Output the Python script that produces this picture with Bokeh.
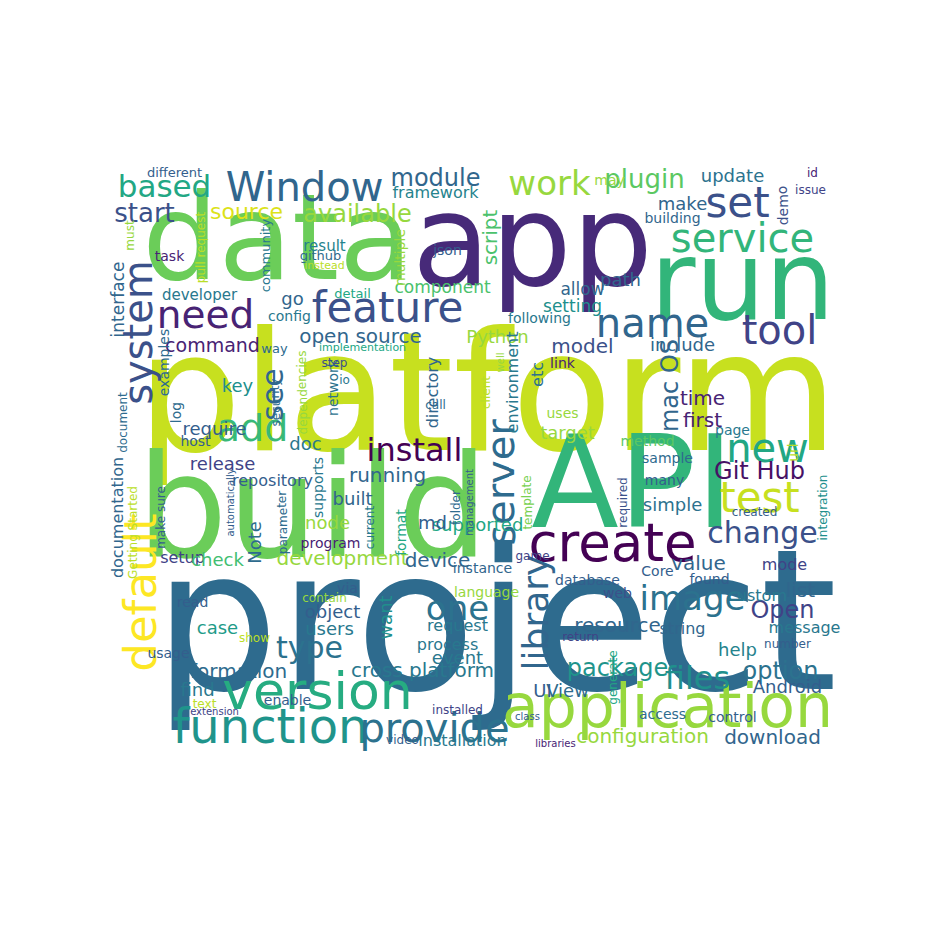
import math
from bokeh.plotting import figure
from bokeh.models import Range1d, ColumnDataSource
from bokeh.palettes import Viridis256
from bokeh.core.properties import value
from bokeh.embed import file_html
from bokeh.resources import INLINE

words = [
    "project", "platform", "build", "app", "data", "API", "run", "application", "create", "version",
    "function", "provide", "Window", "feature", "need", "system", "add", "see", "default", "service",
    "set", "name", "tool", "new", "test", "change", "Git Hub", "server", "install", "open source",
    "one", "library", "image", "Open", "type", "files", "option", "package", "work", "plugin",
    "module", "based", "source", "available", "start", "framework", "command", "developer", "config", "interface",
    "community", "go", "Python", "component", "script", "json", "result", "multiple", "setting", "allow",
    "path", "make", "update", "demo", "building", "id", "issue", "may", "model", "include",
    "mac OS", "environment", "etc", "link", "uses", "directory", "network", "key", "time", "first",
    "target", "method", "page", "url", "doc", "release", "repository", "running", "built", "supports",
    "node", "documentation", "Getting Started", "make sure", "setup", "check", "development", "Note", "format", "device",
    "supported", "md", "simple", "value", "mode", "list", "custom", "Android", "download", "configuration",
    "help", "message", "control", "resource", "string", "View", "UI", "web", "request", "process",
    "event", "cross platform", "users", "object", "via", "want", "information", "find", "enable", "installation",
    "installed", "video", "libraries", "text", "extension", "usage", "case", "read", "show", "contain",
    "language", "instance", "game", "database", "Core", "found", "number", "return", "generate", "access",
    "class", "integration", "created", "many", "sample", "required", "folder", "management", "template", "host",
    "log", "require", "automatically", "parameter", "program", "current", "call", "client", "examples", "document",
    "security", "dependencies", "io", "step", "well", "implementation", "way", "following", "detail", "github",
    "instead", "pull request", "task", "must", "different",
]
word_x = [
    503, 495, 320, 540, 285, 640, 750, 675, 620, 325,
    278, 442, 312, 395, 213, 145, 260, 280, 148, 750,
    745, 660, 787, 775, 767, 770, 767, 508, 422, 368,
    465, 543, 700, 790, 317, 705, 788, 625, 557, 652,
    443, 172, 254, 365, 152, 443, 220, 207, 297, 125,
    273, 300, 505, 450, 497, 455, 332, 407, 580, 590,
    628, 690, 740, 790, 680, 820, 818, 617, 590, 690,
    677, 520, 545, 570, 570, 440, 340, 245, 710, 710,
    575, 655, 740, 800, 313, 230, 280, 395, 360, 325,
    335, 125, 140, 168, 190, 225, 350, 262, 408, 445,
    485, 440, 680, 706, 792, 808, 765, 795, 780, 650,
    745, 812, 740, 625, 690, 575, 550, 625, 465, 455,
    465, 430, 337, 340, 355, 393, 237, 205, 295, 470,
    465, 410, 563, 212, 222, 176, 225, 200, 262, 332,
    494, 490, 540, 595, 665, 717, 795, 588, 620, 670,
    535, 830, 762, 672, 675, 630, 463, 477, 535, 203,
    183, 222, 238, 290, 338, 377, 443, 493, 171, 130,
    283, 310, 352, 342, 508, 370, 282, 547, 360, 328,
    332, 208, 177, 137, 182,
]
word_y = [
    628, 400, 515, 248, 245, 490, 288, 713, 550, 698,
    733, 735, 194, 315, 322, 340, 435, 402, 600, 245,
    210, 330, 337, 455, 505, 540, 478, 490, 457, 343,
    615, 620, 605, 617, 655, 685, 678, 675, 190, 186,
    185, 193, 219, 221, 220, 200, 352, 302, 323, 307,
    263, 306, 344, 294, 245, 257, 253, 265, 313, 296,
    287, 211, 183, 213, 225, 180, 197, 187, 353, 352,
    393, 390, 382, 370, 420, 400, 395, 393, 405, 427,
    440, 448, 437, 460, 451, 471, 488, 482, 506, 495,
    530, 525, 540, 525, 565, 567, 565, 550, 540, 567,
    532, 530, 512, 570, 572, 597, 603, 694, 744, 743,
    657, 635, 724, 632, 636, 698, 698, 600, 633, 652,
    665, 677, 636, 619, 595, 625, 678, 697, 707, 748,
    717, 747, 751, 711, 719, 660, 635, 609, 645, 605,
    599, 575, 563, 587, 578, 586, 651, 644, 685, 721,
    724, 515, 519, 487, 465, 510, 515, 510, 510, 448,
    420, 436, 510, 530, 550, 535, 412, 400, 370, 430,
    410, 400, 387, 370, 370, 355, 356, 325, 301, 263,
    273, 255, 263, 243, 180,
]
word_size = [
    197, 165, 143, 128, 120, 128, 110, 60, 53, 52,
    48, 40, 40, 42, 39, 40, 38, 30, 45, 40,
    42, 40, 40, 40, 42, 30, 24, 40, 32, 20,
    34, 36, 34, 24, 30, 32, 24, 24, 34, 26,
    24, 31, 22, 24, 26, 16, 19, 15, 14, 17,
    13, 18, 18, 17, 20, 14, 15, 14, 17, 17,
    18, 18, 18, 14, 14, 12, 12, 14, 20, 18,
    24, 16, 16, 14, 14, 16, 14, 18, 20, 20,
    18, 14, 14, 14, 18, 18, 16, 20, 18, 14,
    18, 16, 12, 12, 16, 18, 20, 18, 14, 20,
    18, 18, 18, 20, 16, 20, 16, 18, 20, 20,
    18, 16, 14, 20, 16, 18, 18, 14, 16, 16,
    18, 20, 18, 18, 14, 18, 20, 18, 14, 16,
    12, 12, 10, 12, 10, 14, 18, 14, 12, 12,
    14, 14, 12, 14, 14, 14, 12, 12, 12, 14,
    10, 12, 12, 14, 14, 12, 12, 10, 12, 14,
    14, 18, 10, 12, 14, 12, 12, 12, 14, 12,
    12, 12, 12, 12, 10, 11, 13, 14, 13, 13,
    11, 12, 14, 12, 13,
]
vertical = [
    0, 0, 0, 0, 0, 0, 0, 0, 0, 0,
    0, 0, 0, 0, 0, 1, 0, 1, 1, 0,
    0, 0, 0, 0, 0, 0, 0, 1, 0, 0,
    0, 1, 0, 0, 0, 0, 0, 0, 0, 0,
    0, 0, 0, 0, 0, 0, 0, 0, 0, 1,
    1, 0, 0, 0, 1, 0, 0, 1, 0, 0,
    0, 0, 0, 1, 0, 0, 0, 0, 0, 0,
    1, 1, 1, 0, 0, 1, 1, 0, 0, 0,
    0, 0, 0, 1, 0, 0, 0, 0, 0, 1,
    0, 1, 1, 1, 0, 0, 0, 1, 1, 0,
    0, 0, 0, 0, 0, 0, 0, 0, 0, 0,
    0, 0, 0, 0, 0, 0, 0, 0, 0, 0,
    0, 0, 0, 0, 0, 1, 0, 0, 0, 0,
    0, 0, 0, 0, 0, 0, 0, 0, 0, 0,
    0, 0, 0, 0, 0, 0, 0, 0, 1, 0,
    0, 1, 0, 0, 0, 1, 1, 1, 1, 0,
    1, 0, 1, 1, 0, 1, 0, 1, 1, 1,
    1, 1, 0, 0, 1, 0, 0, 0, 0, 0,
    0, 1, 0, 1, 0,
]
shade = [
    0.35, 0.92, 0.78, 0.12, 0.78, 0.66, 0.66, 0.85, 0.0, 0.62,
    0.52, 0.38, 0.33, 0.25, 0.1, 0.25, 0.68, 0.33, 1.0, 0.66,
    0.25, 0.33, 0.2, 0.6, 0.92, 0.25, 0.05, 0.35, 0.0, 0.33,
    0.38, 0.33, 0.38, 0.2, 0.38, 0.5, 0.38, 0.52, 0.85, 0.75,
    0.33, 0.6, 0.95, 0.85, 0.25, 0.45, 0.1, 0.4, 0.4, 0.33,
    0.4, 0.33, 0.85, 0.72, 0.72, 0.3, 0.45, 0.85, 0.5, 0.33,
    0.33, 0.33, 0.38, 0.25, 0.33, 0.1, 0.2, 0.85, 0.25, 0.33,
    0.33, 0.4, 0.38, 0.1, 0.85, 0.33, 0.38, 0.5, 0.1, 0.1,
    0.85, 0.75, 0.4, 0.9, 0.4, 0.2, 0.3, 0.33, 0.33, 0.4,
    0.85, 0.33, 0.9, 0.3, 0.2, 0.7, 0.85, 0.35, 0.6, 0.33,
    0.6, 0.3, 0.38, 0.33, 0.2, 0.33, 0.4, 0.3, 0.33, 0.85,
    0.45, 0.4, 0.3, 0.33, 0.33, 0.35, 0.3, 0.25, 0.4, 0.4,
    0.4, 0.4, 0.4, 0.3, 0.3, 0.5, 0.35, 0.4, 0.3, 0.4,
    0.2, 0.3, 0.1, 0.9, 0.2, 0.3, 0.55, 0.3, 0.9, 0.85,
    0.85, 0.33, 0.2, 0.3, 0.3, 0.3, 0.3, 0.2, 0.6, 0.35,
    0.3, 0.5, 0.3, 0.3, 0.35, 0.25, 0.35, 0.3, 0.8, 0.3,
    0.35, 0.3, 0.3, 0.35, 0.1, 0.4, 0.35, 0.9, 0.35, 0.35,
    0.35, 0.85, 0.4, 0.25, 0.85, 0.6, 0.35, 0.4, 0.6, 0.35,
    0.9, 0.9, 0.1, 0.85, 0.3,
]

src = ColumnDataSource(dict(
    x=word_x,
    y=word_y,
    text=words,
    size=[f"{s}px" for s in word_size],
    angle=[math.pi / 2 if v else 0 for v in vertical],
    color=[Viridis256[min(255, int(s * 255))] for s in shade],
))

p = figure(width=920, height=920, x_range=Range1d(8, 928), y_range=Range1d(928, 8),
           output_backend="svg", toolbar_location=None, min_border=0)
p.axis.visible = False
p.grid.visible = False
p.outline_line_color = None
p.background_fill_color = "white"

p.text(x="x", y="y", text="text", text_font_size="size", angle="angle",
       text_color="color", text_align="center", text_baseline="middle",
       text_font=value("DejaVu Sans"), source=src)

open("out.html", "w").write(file_html(p, INLINE))
